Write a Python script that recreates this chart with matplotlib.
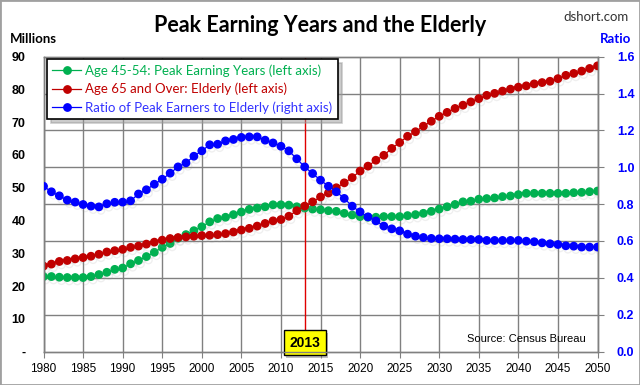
import matplotlib
matplotlib.use("Agg")
import matplotlib.pyplot as plt
import matplotlib.patheffects as pe
from matplotlib.patches import Rectangle

# datos (millones / ratio)
years = list(range(1980, 2051))
age_45_54 = [
    22.9, 22.9, 22.7, 22.6, 22.6, 22.6, 22.9, 23.5, 24.2, 25.1,
    25.5, 26.8, 27.8, 29.0, 30.3, 31.8, 33.0, 34.6, 35.7, 36.9,
    38.1, 39.6, 40.6, 41.0, 41.8, 42.6, 43.4, 43.8, 44.2, 44.8,
    44.8, 44.7, 44.2, 43.8, 43.5, 43.3, 43.0, 42.8, 42.2, 41.7,
    41.2, 41.0, 41.0, 41.2, 41.2, 41.2, 41.5, 41.8, 42.2, 42.8,
    43.5, 44.2, 44.9, 45.7, 45.9, 46.5, 46.7, 46.9, 47.3, 47.5,
    47.9, 48.3, 48.3, 48.3, 48.3, 48.3, 48.3, 48.5, 48.6, 48.8,
    49.0,
]
age_65_plus = [
    26.1, 26.7, 27.5, 27.8, 28.3, 28.7, 29.1, 29.7, 30.4, 30.8,
    31.2, 31.8, 32.2, 32.8, 33.4, 34.0, 34.5, 34.8, 35.0, 35.2,
    35.4, 35.5, 35.7, 36.0, 36.5, 37.1, 37.6, 38.3, 39.1, 39.9,
    40.3, 41.3, 43.0, 44.4, 45.7, 47.2, 48.4, 50.0, 51.5, 53.1,
    55.1, 56.6, 58.4, 59.9, 62.0, 63.8, 65.7, 67.1, 68.8, 70.3,
    71.8, 73.0, 74.2, 75.2, 76.2, 77.2, 78.2, 78.8, 79.5, 80.1,
    80.7, 81.1, 81.7, 82.1, 82.5, 83.3, 84.3, 84.9, 85.6, 86.4,
    87.2,
]
ratio = [
    0.897, 0.867, 0.845, 0.822, 0.811, 0.798, 0.789, 0.785, 0.802, 0.810,
    0.811, 0.818, 0.855, 0.878, 0.908, 0.935, 0.968, 1.002, 1.024, 1.060,
    1.089, 1.122, 1.125, 1.143, 1.151, 1.162, 1.165, 1.165, 1.147, 1.132,
    1.114, 1.089, 1.046, 1.002, 0.966, 0.930, 0.897, 0.867, 0.831, 0.789,
    0.758, 0.731, 0.709, 0.681, 0.666, 0.655, 0.637, 0.626, 0.619, 0.614,
    0.612, 0.612, 0.610, 0.608, 0.608, 0.608, 0.603, 0.603, 0.603, 0.603,
    0.603, 0.599, 0.596, 0.590, 0.585, 0.581, 0.574, 0.572, 0.567, 0.567,
    0.567,
]
labels = [
    "Age 45-54: Peak Earning Years (left axis)",
    "Age 65 and Over: Elderly (left axis)",
    "Ratio of Peak Earners to Elderly (right axis)",
]
marker_year = 2013
x_ticks = list(range(1980, 2051, 5))
left_ticks = list(range(0, 91, 10))
left_labels = ["-"] + [str(v) for v in left_ticks[1:]]
right_ticks = [0.0, 0.2, 0.4, 0.6, 0.8, 1.0, 1.2, 1.4, 1.6]

GREEN = "#00B050"
RED = "#C00000"
BLUE = "#0000FF"
GRID = "#808080"
CAL = ["Lato", "DejaVu Sans"]
TAH = ["Liberation Sans", "DejaVu Sans"]

fig = plt.figure(figsize=(6.4, 3.85), dpi=100)
ax = fig.add_axes([0.068, 0.0868, 0.8656, 0.766])
ax2 = ax.twinx()

ax.set_xlim(1980, 2050)
ax.set_ylim(0, 90)
ax2.set_ylim(0, 1.6)

# rejilla: verticales cada 5 anios, horizontales segun el eje derecho
ax.set_xticks(x_ticks)
ax.set_xticklabels([str(t) for t in x_ticks], family=TAH, fontsize=8.5)
ax.set_yticks(left_ticks)
ax.set_yticklabels(left_labels, family=TAH, fontsize=9, fontweight="bold")
ax.set_yticks([t * 90 / 1.6 for t in right_ticks], minor=True)
ax.grid(True, axis="x", color=GRID, lw=1)
ax.grid(True, axis="y", which="minor", color=GRID, lw=1)
ax.set_axisbelow(True)
ax.tick_params(axis="x", direction="out", length=4, color=GRID, pad=4)
ax.tick_params(axis="y", which="both", length=0, pad=13)

ax2.set_yticks(right_ticks)
ax2.set_yticklabels([f"{t:.1f}" for t in right_ticks], family=TAH,
                    fontsize=9, fontweight="bold", color=BLUE)
ax2.tick_params(axis="y", direction="out", length=4, color=GRID, pad=10)

for a in (ax, ax2):
    for sp in a.spines.values():
        sp.set_color(GRID)
        sp.set_linewidth(1)

sombra = [pe.SimpleLineShadow(offset=(1.5, -2.5), shadow_color="0.6", alpha=0.15),
          pe.Normal()]
kw = dict(marker="o", markersize=5.3, lw=0.9, path_effects=sombra)
l1, = ax.plot(years, age_45_54, color=GREEN, label=labels[0], zorder=3, **kw)
l2, = ax.plot(years, age_65_plus, color=RED, label=labels[1], zorder=3, **kw)
l3, = ax2.plot(years, ratio, color=BLUE, label=labels[2], zorder=3, **kw)

ax.axvline(marker_year, color="#E00000", lw=1, zorder=2)
caja = ax.text(marker_year, 2.7, str(marker_year), ha="center", va="center",
               family=TAH, fontsize=10, fontweight="bold", zorder=6,
               bbox=dict(boxstyle="square,pad=0.4", fc="#FFFF00", ec="black", lw=1))
caja.get_bbox_patch().set_path_effects(
    [pe.withSimplePatchShadow(offset=(2, -2), shadow_rgbFace="0.5", alpha=0.5)])

leg = ax2.legend(handles=[l1, l2, l3], loc="upper left",
                 bbox_to_anchor=(0.006, 0.992), prop={"family": CAL, "size": 9.5},
                 fancybox=False, framealpha=1, edgecolor="black",
                 shadow={"ox": 3, "oy": -3, "color": "0.6", "alpha": 0.5},
                 handlelength=2.2, handletextpad=0.3, labelspacing=0.45,
                 borderpad=0.4, borderaxespad=0)
leg.get_frame().set_linewidth(1.2)
for txt, c in zip(leg.get_texts(), [GREEN, RED, "#3333FF"]):
    txt.set_color(c)
for h in leg.legend_handles:
    h.set_path_effects([])

ax.text(0.979, 0.043, "Source: Census Bureau", transform=ax.transAxes,
        ha="right", va="center", family=TAH, fontsize=8)

fig.text(0.5, 1 - 25 / 385, "Peak Earning Years and the Elderly", ha="center",
         va="center", family=CAL, fontsize=15.5, fontweight="bold")
fig.text(10 / 640, 1 - 39 / 385, "Millions", ha="left", va="center",
         family=CAL, fontsize=9.5, fontweight="bold")
fig.text(631 / 640, 1 - 39 / 385, "Ratio", ha="right", va="center",
         family=CAL, fontsize=9.5, fontweight="bold", color=BLUE)
fig.text(629 / 640, 1 - 17 / 385, "dshort.com", ha="right", va="center",
         family=CAL, fontsize=9.5, color="#333333")

fig.patches.append(Rectangle((0, 0), 1, 1, transform=fig.transFigure,
                             fill=False, ec="#A0A0A0", lw=2))

fig.savefig("out.png", dpi=100)
plt.close(fig)
